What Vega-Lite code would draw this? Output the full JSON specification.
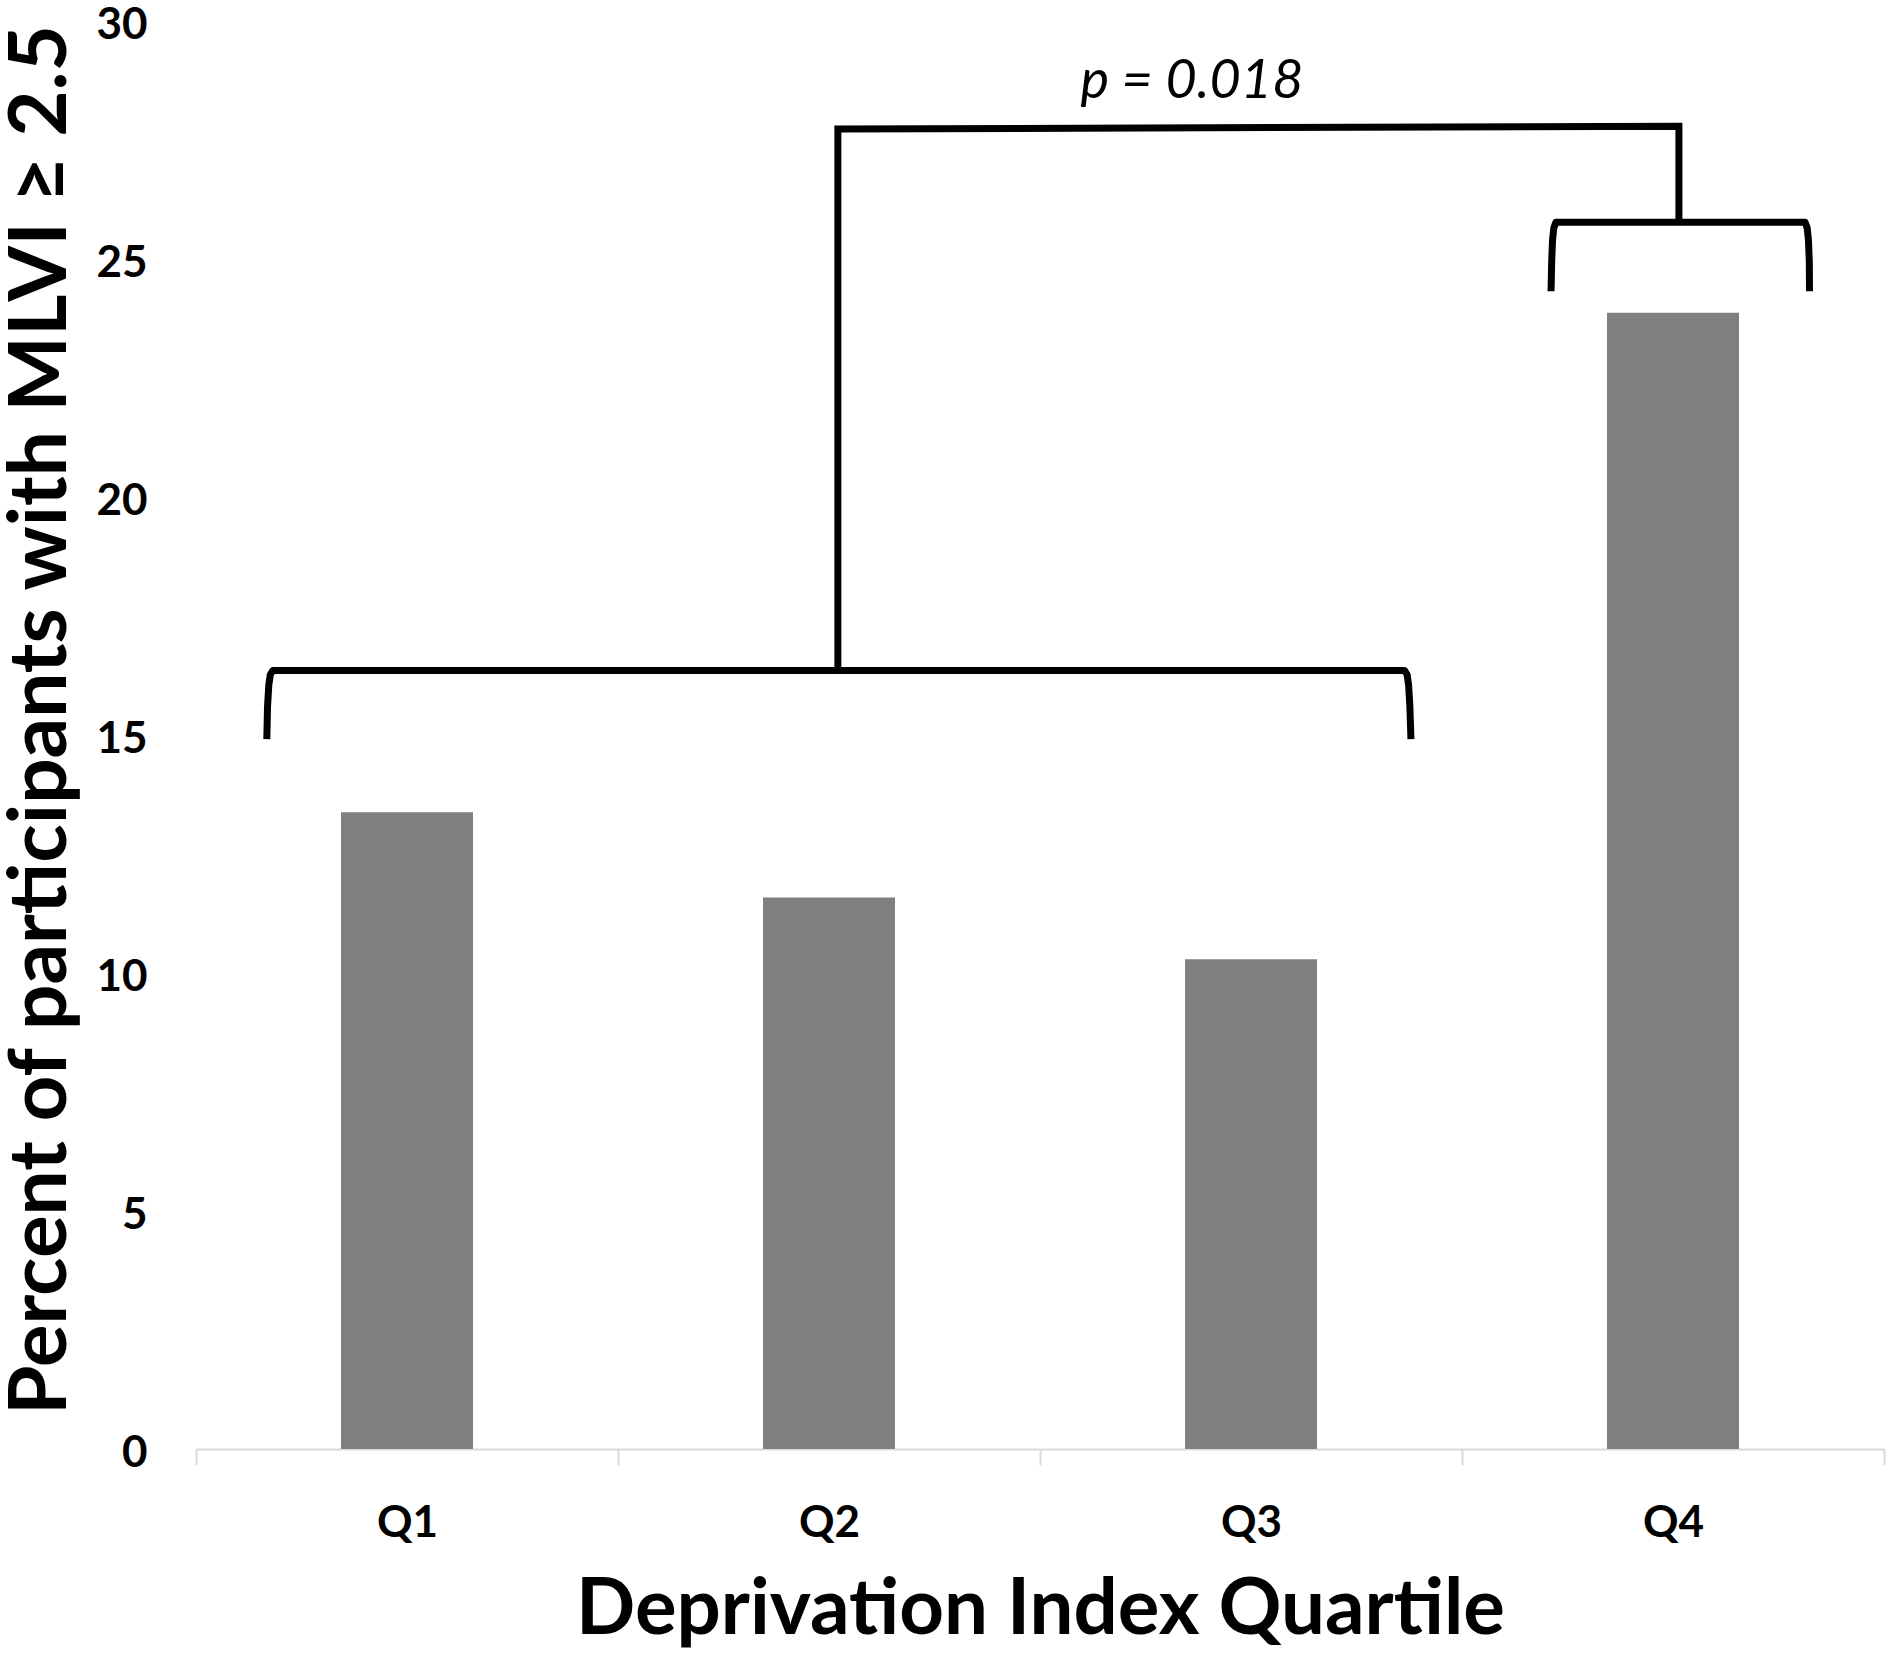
{
  "$schema": "https://vega.github.io/schema/vega-lite/v6.json",
  "width": 1688,
  "height": 1427.5,
  "autosize": {"type": "none"},
  "padding": {"left": 196, "top": 21.5, "right": 6, "bottom": 204},
  "background": "white",
  "config": {
    "view": {"stroke": null},
    "font": "Lato"
  },
  "datasets": {
    "bars": [
      {"quartile": "Q1", "percent": 13.38},
      {"quartile": "Q2", "percent": 11.59},
      {"quartile": "Q3", "percent": 10.29},
      {"quartile": "Q4", "percent": 23.88}
    ],
    "braces": [
      {"seg": "A", "i": 0, "bx": 0.1678, "by": 14.92},
      {"seg": "A", "i": 1, "bx": 0.1695, "by": 15.6},
      {"seg": "A", "i": 2, "bx": 0.1725, "by": 16.05},
      {"seg": "A", "i": 3, "bx": 0.176, "by": 16.27},
      {"seg": "A", "i": 4, "bx": 0.182, "by": 16.36},
      {"seg": "A", "i": 5, "bx": 2.864, "by": 16.36},
      {"seg": "A", "i": 6, "bx": 2.87, "by": 16.27},
      {"seg": "A", "i": 7, "bx": 2.8735, "by": 16.05},
      {"seg": "A", "i": 8, "bx": 2.8765, "by": 15.6},
      {"seg": "A", "i": 9, "bx": 2.879, "by": 14.92},
      {"seg": "C", "i": 0, "bx": 3.211, "by": 24.33},
      {"seg": "C", "i": 1, "bx": 3.2125, "by": 24.95},
      {"seg": "C", "i": 2, "bx": 3.2145, "by": 25.4},
      {"seg": "C", "i": 3, "bx": 3.2175, "by": 25.66},
      {"seg": "C", "i": 4, "bx": 3.2225, "by": 25.78},
      {"seg": "C", "i": 5, "bx": 3.813, "by": 25.78},
      {"seg": "C", "i": 6, "bx": 3.818, "by": 25.66},
      {"seg": "C", "i": 7, "bx": 3.821, "by": 25.4},
      {"seg": "C", "i": 8, "bx": 3.823, "by": 24.95},
      {"seg": "C", "i": 9, "bx": 3.8235, "by": 24.33}
    ],
    "link": [
      {"i": 0, "bx": 1.521, "by": 16.36},
      {"i": 1, "bx": 1.521, "by": 27.74},
      {"i": 2, "bx": 3.514, "by": 27.8},
      {"i": 3, "bx": 3.514, "by": 25.78}
    ],
    "note": [
      {"tx": 2.36, "ty": 28.39, "label": "p = 0.018"}
    ]
  },
  "layer": [
    {
      "data": {"name": "bars"},
      "mark": {"type": "bar", "color": "#808080", "width": {"band": 0.3128}},
      "encoding": {
        "x": {
          "field": "quartile",
          "type": "nominal",
          "sort": ["Q1", "Q2", "Q3", "Q4"],
          "scale": {"type": "band", "paddingInner": 0, "paddingOuter": 0},
          "axis": {
            "title": "Deprivation Index Quartile",
            "titleFontSize": 78,
            "titleFontWeight": "bold",
            "titleColor": "black",
            "titleBaseline": "alphabetic",
            "titleY": 184,
            "labelAngle": 0,
            "labelFontSize": 44,
            "labelFontWeight": "bold",
            "labelColor": "black",
            "labelPadding": 36,
            "tickBand": "extent",
            "tickSize": 16,
            "tickColor": "#d9d9d9",
            "tickWidth": 2,
            "domainColor": "#d9d9d9",
            "domainWidth": 2
          }
        },
        "y": {
          "field": "percent",
          "type": "quantitative",
          "scale": {"domain": [0, 30], "nice": false},
          "axis": {
            "title": "Percent of participants with MLVI ≥ 2.5",
            "titleFontSize": 80,
            "titleFontWeight": "bold",
            "titleColor": "black",
            "titleAngle": -90,
            "titleAlign": "center",
            "titleBaseline": "alphabetic",
            "titleX": -131,
            "titleY": 698,
            "values": [0, 5, 10, 15, 20, 25, 30],
            "grid": false,
            "domain": false,
            "ticks": false,
            "labelFontSize": 44,
            "labelFontWeight": "bold",
            "labelColor": "black",
            "labelPadding": 49,
            "labelOffset": 4
          }
        }
      }
    },
    {
      "data": {"name": "braces"},
      "mark": {"type": "line", "color": "black", "strokeWidth": 7, "strokeJoin": "round", "strokeCap": "butt"},
      "encoding": {
        "x": {"field": "bx", "type": "quantitative", "scale": {"domain": [0, 4], "nice": false, "zero": false}, "axis": null},
        "y": {"field": "by", "type": "quantitative"},
        "detail": {"field": "seg"},
        "order": {"field": "i"}
      }
    },
    {
      "data": {"name": "link"},
      "mark": {"type": "line", "color": "black", "strokeWidth": 7, "strokeJoin": "miter", "strokeCap": "butt"},
      "encoding": {
        "x": {"field": "bx", "type": "quantitative", "scale": {"domain": [0, 4], "nice": false, "zero": false}, "axis": null},
        "y": {"field": "by", "type": "quantitative"},
        "order": {"field": "i"}
      }
    },
    {
      "data": {"name": "note"},
      "mark": {"type": "text", "fontSize": 54, "fontStyle": "italic", "align": "center", "baseline": "alphabetic", "color": "black"},
      "encoding": {
        "x": {"field": "tx", "type": "quantitative", "scale": {"domain": [0, 4], "nice": false, "zero": false}, "axis": null},
        "y": {"field": "ty", "type": "quantitative"},
        "text": {"field": "label"}
      }
    }
  ],
  "resolve": {"scale": {"x": "independent"}}
}
